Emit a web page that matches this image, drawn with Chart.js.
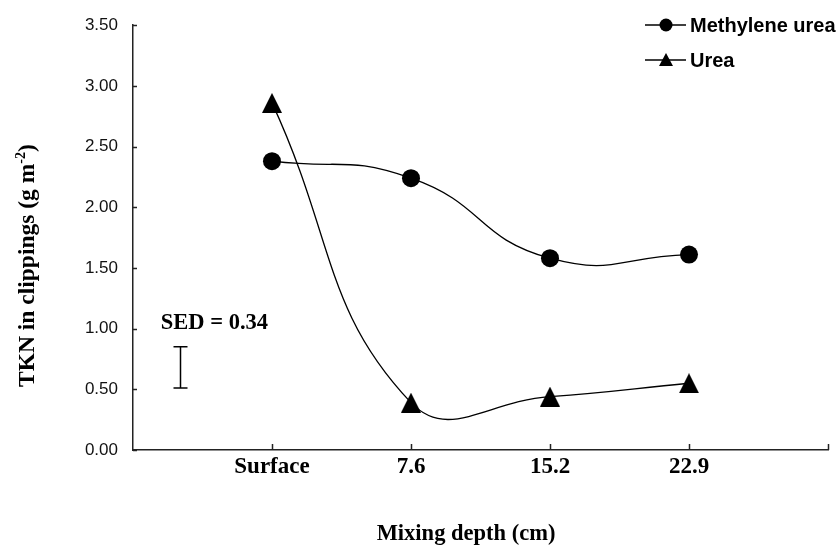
<!DOCTYPE html>
<html>
<head>
<meta charset="utf-8">
<script src="https://cdn.jsdelivr.net/npm/chart.js@4.4.0/dist/chart.umd.min.js"></script>
<style>
html, body { margin: 0; padding: 0; background: #fff; }
</style>
</head>
<body>
<canvas id="chart" width="838" height="545"></canvas>
<script>
// values
var depths = ['Surface', '7.6', '15.2', '22.9'];
var methyleneUrea = [2.38, 2.24, 1.58, 1.61];
var urea = [2.86, 0.39, 0.44, 0.55];
var yTicks = [0, 0.5, 1, 1.5, 2, 2.5, 3, 3.5];
var sed = 0.34;
var sedBar = [0.51, 0.85];

var serif = "'Liberation Serif', 'Times New Roman', serif";
var sans = "'Liberation Sans', Arial, sans-serif";

function toPoints(arr) {
    return arr.map(function (v, i) { return { x: i + 1, y: v }; });
}

// Excel style triangle marker, centred on its box
function triangleMarker(w, h) {
    var c = document.createElement('canvas');
    c.width = w; c.height = h;
    var g = c.getContext('2d');
    g.fillStyle = '#000';
    g.beginPath();
    g.moveTo(w / 2, 0);
    g.lineTo(w, h);
    g.lineTo(0, h);
    g.closePath();
    g.fill();
    return c;
}
var tri = triangleMarker(20, 20);

var decor = {
    id: 'decor',
    afterDraw: function (chart) {
        var ctx = chart.ctx;
        var x = chart.scales.x, y = chart.scales.y;
        var a = chart.chartArea;
        ctx.save();
        ctx.strokeStyle = '#222';
        ctx.lineWidth = 1.5;

        // inward tick marks
        ctx.beginPath();
        yTicks.forEach(function (v) {
            var py = Math.round(y.getPixelForValue(v)) + 0.5;
            ctx.moveTo(a.left, py);
            ctx.lineTo(a.left + 4, py);
        });
        for (var i = 1; i <= depths.length + 1; i++) {
            var px = Math.round(x.getPixelForValue(i)) + 0.5;
            ctx.moveTo(px, a.bottom);
            ctx.lineTo(px, a.bottom - 6);
        }
        ctx.stroke();

        // SED bar
        var sx = Math.round(x.getPixelForValue(0.34)) + 0.5;
        var y1 = y.getPixelForValue(sedBar[0]);
        var y2 = y.getPixelForValue(sedBar[1]);
        ctx.strokeStyle = '#000';
        ctx.lineWidth = 1.5;
        ctx.beginPath();
        ctx.moveTo(sx, y1); ctx.lineTo(sx, y2);
        ctx.moveTo(sx - 7, y1); ctx.lineTo(sx + 7, y1);
        ctx.moveTo(sx - 7, y2); ctx.lineTo(sx + 7, y2);
        ctx.stroke();

        ctx.fillStyle = '#000';
        ctx.font = 'bold 22.5px ' + serif;
        ctx.textAlign = 'left';
        ctx.textBaseline = 'alphabetic';
        ctx.fillText('SED = ' + sed.toFixed(2), x.getPixelForValue(0.2), y.getPixelForValue(1.0));

        // x axis title
        ctx.textAlign = 'center';
        ctx.fillText('Mixing depth (cm)', 466, 540);

        // y axis title with superscript
        ctx.save();
        ctx.translate(34, 387);
        ctx.rotate(-Math.PI / 2);
        ctx.textAlign = 'left';
        ctx.font = 'bold 23.5px ' + serif;
        var main = 'TKN in clippings (g m';
        ctx.fillText(main, 0, 0);
        var w = ctx.measureText(main).width;
        ctx.font = 'bold 14px ' + serif;
        ctx.fillText('-2', w, -9);
        w += ctx.measureText('-2').width;
        ctx.font = 'bold 23.5px ' + serif;
        ctx.fillText(')', w, 0);
        ctx.restore();

        // legend
        var rows = [
            { label: 'Methylene urea', ly: 25, shape: 'circle' },
            { label: 'Urea', ly: 60, shape: 'triangle' }
        ];
        rows.forEach(function (r) {
            ctx.strokeStyle = '#000';
            ctx.lineWidth = 1.3;
            ctx.beginPath();
            ctx.moveTo(645, r.ly); ctx.lineTo(686, r.ly);
            ctx.stroke();
            ctx.beginPath();
            if (r.shape === 'circle') {
                ctx.arc(666, r.ly, 6.5, 0, Math.PI * 2);
            } else {
                ctx.moveTo(666, r.ly - 7);
                ctx.lineTo(673, r.ly + 6);
                ctx.lineTo(659, r.ly + 6);
                ctx.closePath();
            }
            ctx.fill();
            ctx.font = 'bold 20px ' + sans;
            ctx.textAlign = 'left';
            ctx.textBaseline = 'alphabetic';
            ctx.fillText(r.label, 690, r.ly + 6.5);
        });
        ctx.restore();
    }
};

new Chart(document.getElementById('chart'), {
    type: 'line',
    data: {
        datasets: [{
            label: 'Methylene urea',
            data: toPoints(methyleneUrea),
            borderColor: '#000',
            borderWidth: 1.3,
            pointStyle: 'circle',
            pointRadius: 9,
            pointBorderWidth: 0,
            pointBackgroundColor: '#000',
            tension: 0.5
        }, {
            label: 'Urea',
            data: toPoints(urea),
            borderColor: '#000',
            borderWidth: 1.3,
            pointStyle: tri,
            pointBackgroundColor: '#000',
            tension: 0.45
        }]
    },
    options: {
        responsive: false,
        animation: false,
        events: [],
        layout: { padding: { top: 24, right: 10, left: 0, bottom: 0 } },
        plugins: {
            legend: { display: false },
            tooltip: { enabled: false }
        },
        scales: {
            x: {
                type: 'linear',
                min: 0,
                max: depths.length + 1,
                afterFit: function (s) { s.height = 95; },
                afterBuildTicks: function (s) {
                    s.ticks = [1, 2, 3, 4].map(function (v) { return { value: v }; });
                },
                ticks: {
                    padding: 3,
                    color: '#000',
                    font: { family: serif, size: 23, weight: 'bold' },
                    callback: function (v) { return depths[v - 1] || ''; }
                },
                grid: { display: false, drawTicks: false },
                border: { display: true, color: '#222', width: 1.5 }
            },
            y: {
                min: 0,
                max: 3.5,
                afterFit: function (s) { s.width = 133; },
                afterBuildTicks: function (s) {
                    s.ticks = yTicks.map(function (v) { return { value: v }; });
                },
                ticks: {
                    padding: 15,
                    color: '#111',
                    font: { family: sans, size: 17 },
                    callback: function (v) { return v.toFixed(2); }
                },
                grid: { display: false, drawTicks: false },
                border: { display: true, color: '#222', width: 1.5 }
            }
        }
    },
    plugins: [decor]
});
</script>
</body>
</html>
